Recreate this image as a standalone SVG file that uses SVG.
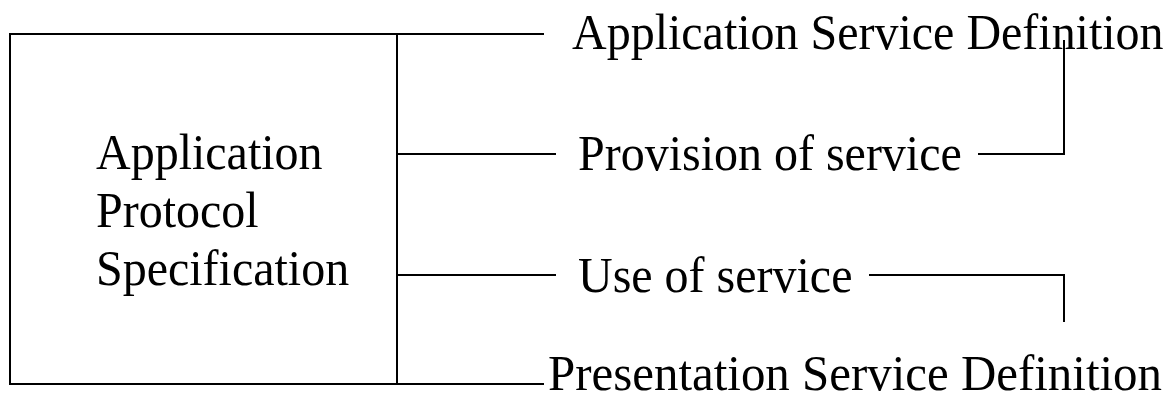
<svg xmlns="http://www.w3.org/2000/svg" width="1174" height="401" viewBox="0 0 1174 401">
<style>
.ln{stroke:#000;stroke-width:2;fill:none}
.t{font-family:"Liberation Serif","Times New Roman",serif;font-size:48px;fill:#000}
</style>
<rect width="1174" height="401" fill="#fff"/>
<g id="connectors">
<path class="ln" d="M9,34 H544"/>
<path class="ln" d="M9,384 H544"/>
<path class="ln" d="M397,34 V384"/>
<path class="ln" d="M397,154 H556"/>
<path class="ln" d="M397,275 H556"/>
<path class="ln" d="M978,154 H1064 V40"/>
<path class="ln" d="M869,275 H1064 V322"/>
</g>
<g id="node-protocol">
<path class="ln" d="M10,34 V384"/>
<text class="t" transform="translate(96,169) scale(1,1.07)">Application</text>
<text class="t" transform="translate(96,227) scale(1,1.07)">Protocol</text>
<text class="t" transform="translate(96,285) scale(1,1.07)">Specification</text>
</g>
<g id="node-asd"><text class="t" transform="translate(572,49) scale(1,1.07)">Application Service Definition</text></g>
<g id="node-provision"><text class="t" transform="translate(578,170) scale(1,1.07)">Provision of service</text></g>
<g id="node-use"><text class="t" transform="translate(578,292) scale(1,1.07)">Use of service</text></g>
<g id="node-psd"><text class="t" transform="translate(548,390) scale(1,1.07)" textLength="614" lengthAdjust="spacingAndGlyphs">Presentation Service Definition</text></g>
</svg>
